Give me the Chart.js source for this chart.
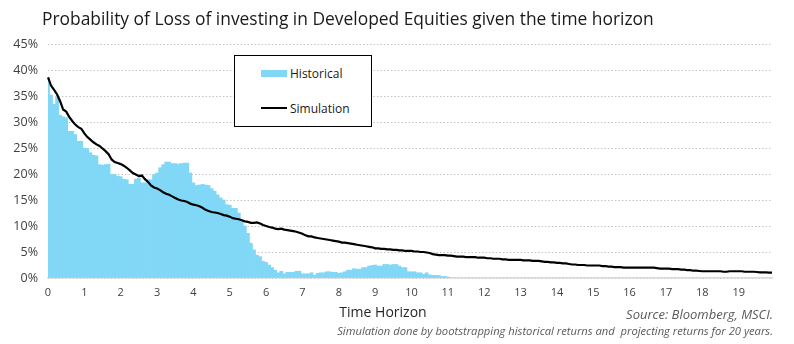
<!DOCTYPE html>
<html>
<head>
<meta charset="utf-8">
<script src="https://cdn.jsdelivr.net/npm/chart.js@4/dist/chart.umd.min.js"></script>
<style>
  html, body { margin: 0; padding: 0; background: #fff; }
  body { width: 794px; height: 344px; position: relative; overflow: hidden; font-family: "Open Sans", "DejaVu Sans", sans-serif; }
  #wrap { position: absolute; left: 0; top: 0; width: 794px; height: 344px; }
  #title { position: absolute; left: 42px; top: 6px; font-size: 17.4px; color: #1a1a1a; white-space: nowrap; }
  #xtitle { position: absolute; left: 383px; top: 302px; transform: translateX(-50%); font-size: 14px; color: #262626; white-space: nowrap; }
  .note { position: absolute; right: 21px; font-style: italic; color: #595959; white-space: nowrap; }
  #legend { position: absolute; left: 234px; top: 55px; width: 136px; height: 70px; border: 1.5px solid #000; background: #fff; }
  .lrow { position: absolute; left: 26px; height: 14px; display: flex; align-items: center; font-size: 12px; color: #1a1a1a; white-space: nowrap; }
  .sw { display: inline-block; width: 26px; margin-right: 3px; }
</style>
</head>
<body>
<div id="wrap"><canvas id="c" width="794" height="344"></canvas></div>
<div id="title">Probability of Loss of investing in Developed Equities given the time horizon</div>
<div id="legend"></div>
<div id="xtitle">Time Horizon</div>
<div class="note" style="top:305px; font-size:13px">Source: Bloomberg, MSCI.</div>
<div class="note" style="top:323px; font-size:11.2px">Simulation done by bootstrapping historical returns and &nbsp;projecting returns for 20 years.</div>
<script>
// Months of horizon (0..239), labelled every 12 months with the year
const months = Array.from({length: 240}, (_, i) => i);
const yearTicks = [0,1,2,3,4,5,6,7,8,9,10,11,12,13,14,15,16,17,18,19];

// Historical probability of loss (%), one value per month
const historical = [
38.5,35.2,33.4,34.7,31.3,31.0,30.8,28.2,28.2,27.6,26.3,26.3,
25.0,24.9,24.1,23.6,23.5,21.8,21.7,21.8,21.9,19.9,19.9,19.6,
19.5,19.0,18.9,18.0,18.0,19.0,19.2,18.3,18.3,18.9,18.9,19.9,
20.2,21.2,21.8,22.3,22.3,22.0,22.0,21.9,22.0,22.1,22.1,20.2,
18.3,17.8,17.9,18.0,17.9,17.8,17.2,16.7,16.0,15.4,15.0,14.1,
14.0,13.4,13.4,12.5,11.0,10.0,8.6,6.7,5.4,4.4,4.1,3.2,
3.0,2.5,2.0,1.5,1.0,1.3,0.8,1.1,1.1,1.1,1.3,1.3,
0.8,0.8,0.8,1.0,0.5,0.9,1.0,1.0,1.2,1.2,1.1,1.1,
0.9,1.0,1.2,1.5,1.5,1.8,1.7,1.7,2.0,2.0,2.3,2.4,
2.5,2.3,2.3,2.6,2.6,2.5,2.6,2.6,2.3,2.0,2.0,1.2,
1.2,1.2,1.0,1.0,0.7,1.0,0.6,0.5,0.5,0.5,0.3,0.3,
0.2
];

// Simulated probability of loss (%), one value per month
const simulation = [
38.6,37.0,36.2,35.3,34.0,32.4,32.0,31.0,30.2,29.5,29.0,28.7,
27.8,27.1,26.6,26.1,25.7,25.4,24.9,24.4,23.8,22.8,22.3,22.1,
21.9,21.6,21.2,20.7,20.2,19.9,19.6,19.7,19.0,18.5,17.8,17.4,
17.2,16.9,16.5,16.2,16.0,15.7,15.4,15.1,14.9,14.8,14.6,14.3,
14.1,14.0,13.8,13.5,13.1,12.9,12.7,12.6,12.5,12.3,12.1,12.0,
11.8,11.5,11.4,11.3,11.1,10.9,10.8,10.6,10.6,10.7,10.5,10.2,
10.0,9.8,9.7,9.5,9.4,9.5,9.3,9.2,9.1,9.0,8.9,8.7,
8.5,8.2,8.0,8.0,7.8,7.7,7.6,7.5,7.4,7.3,7.2,7.1,
7.0,6.8,6.8,6.7,6.6,6.5,6.4,6.3,6.2,6.1,6.0,5.9,
5.7,5.7,5.6,5.6,5.5,5.5,5.4,5.4,5.3,5.3,5.2,5.2,
5.2,5.1,5.1,5.0,5.0,4.9,4.8,4.6,4.5,4.4,4.4,4.4,
4.3,4.3,4.2,4.1,4.1,4.1,4.0,4.0,4.0,4.0,3.9,3.9,
3.9,3.8,3.8,3.7,3.7,3.7,3.6,3.6,3.5,3.5,3.5,3.5,
3.5,3.4,3.4,3.4,3.3,3.3,3.3,3.2,3.1,3.1,3.0,3.0,
2.9,2.9,2.8,2.8,2.7,2.6,2.6,2.5,2.5,2.5,2.4,2.4,
2.4,2.4,2.4,2.3,2.3,2.2,2.2,2.1,2.1,2.1,2.0,2.0,
2.0,2.0,2.0,2.0,2.0,2.0,2.0,2.0,2.0,1.9,1.8,1.8,
1.8,1.8,1.7,1.7,1.7,1.6,1.6,1.5,1.5,1.4,1.4,1.35,
1.3,1.3,1.3,1.3,1.3,1.3,1.3,1.2,1.2,1.3,1.3,1.3,
1.3,1.3,1.2,1.2,1.2,1.2,1.15,1.1,1.1,1.1,1.05,1.05
];

const seriesNames = ["Historical", "Simulation"];
const barColor = "#80D7F6";
const lineColor = "#000000";
const FONT = "'Open Sans', 'DejaVu Sans', sans-serif";

const chart = new Chart(document.getElementById('c'), {
  type: 'bar',
  data: {
    labels: months,
    datasets: [
      { type: 'line', label: seriesNames[1], data: simulation, borderColor: lineColor, borderWidth: 2.2, pointRadius: 0, tension: 0, order: 0 },
      { type: 'bar', label: seriesNames[0], data: historical, backgroundColor: barColor, borderWidth: 0, barPercentage: 1, categoryPercentage: 1, order: 1 }
    ]
  },
  options: {
    responsive: false,
    animation: false,
    devicePixelRatio: 1,
    layout: { padding: { top: 44, left: 0, right: 22, bottom: 46 } },
    plugins: { legend: { display: false }, tooltip: { enabled: false }, title: { display: false } },
    scales: {
      x: {
        type: 'category',
        offset: false,
        grid: { display: false, drawTicks: false },
        border: { display: true, color: '#d9d9d9', width: 1.5 },
        ticks: {
          autoSkip: false, maxRotation: 0, padding: 8, color: '#404040',
          font: { family: FONT, size: 11 },
          callback: (v, i) => (i % 12 === 0 && yearTicks.includes(i / 12)) ? String(i / 12) : null
        },
        afterFit: s => { s.height = 20; }
      },
      y: {
        min: 0, max: 45,
        grid: { color: '#c4c4c4', lineWidth: 1, drawTicks: false },
        border: { display: false, dash: [1.5, 2] },
        ticks: { stepSize: 5, padding: 10, color: '#404040', font: { family: FONT, size: 12.5 }, callback: v => v + '%' },
        afterFit: s => { s.width = 48; }
      }
    }
  }
});

// Legend built from the chart's datasets
const lg = document.getElementById('legend');
[[chart.data.datasets[1], 10], [chart.data.datasets[0], 45]].forEach(([ds, top]) => {
  const row = document.createElement('div');
  row.className = 'lrow';
  row.style.top = top + 'px';
  const sw = document.createElement('span');
  sw.className = 'sw';
  if (ds.type === 'bar') { sw.style.height = '7px'; sw.style.background = ds.backgroundColor; }
  else { sw.style.height = '2px'; sw.style.background = ds.borderColor; }
  row.appendChild(sw);
  row.appendChild(document.createTextNode(ds.label));
  lg.appendChild(row);
});
</script>
</body>
</html>
